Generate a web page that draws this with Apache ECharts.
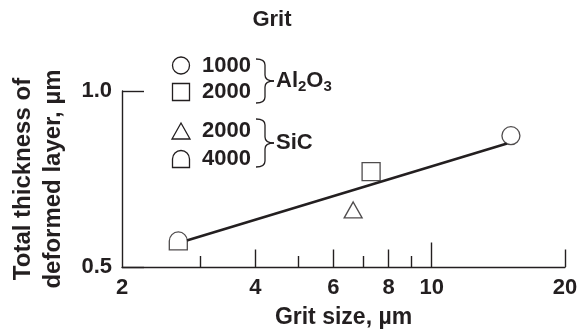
<!DOCTYPE html>
<html>
<head>
<meta charset="utf-8">
<script src="https://cdn.jsdelivr.net/npm/echarts@6/dist/echarts.min.js"></script>
<style>
  html, body { margin: 0; padding: 0; background: #ffffff; }
  #chart { width: 581px; height: 332px; }
</style>
</head>
<body>
<div id="chart"></div>
<script>
// Total thickness of the deformed layer (µm) against abrasive grit size (µm)
const al2o3Grit1000 = [[15.1, 0.873]];
const al2o3Grit2000 = [[7.3, 0.771]];
const sicGrit2000 = [[6.65, 0.662]];
const sicGrit4000 = [[2.68, 0.574]];
const fitLine = [[2.8, 0.575], [14.8, 0.851]];

const xLabelValues = [2, 4, 6, 8, 10, 20];
const xMidTicks = [4, 6, 8, 20];
const xShortTicks = [3, 5, 7, 9];
const xDecadeTicks = [10];

const INK = '#231f20';
const FONT = 'Liberation Sans, Arial, Helvetica, sans-serif';
const FS = 22;
const FW = 'bold';
const DOME = 'path://M0,18 L0,9 A9,9 0 0 1 18,9 L18,18 Z';

function xAxisLayer(tickValues, tickLen, withLine, withLabels) {
  return {
    type: 'log', logBase: 10, min: 2, max: 20, position: 'bottom', gridIndex: 0,
    axisLine: { show: withLine, lineStyle: { color: INK, width: 1.4 } },
    axisTick: { show: true, inside: true, length: tickLen, customValues: tickValues,
                lineStyle: { color: INK, width: 1.4 } },
    axisLabel: withLabels ? { show: true, customValues: xLabelValues, margin: 10,
                color: INK, fontSize: FS, fontWeight: FW, fontFamily: FONT } : { show: false },
    splitLine: { show: false },
    minorTick: { show: false },
    name: withLabels ? 'Grit size, \u00b5m' : '',
    nameLocation: 'middle', nameGap: 39,
    nameTextStyle: { color: INK, fontSize: 23, fontWeight: FW, fontFamily: FONT }
  };
}

function brace(x0, yTop, yBot) {
  const xm = x0 + 9, xt = x0 + 18, r = 6, yMid = (yTop + yBot) / 2;
  const s = { stroke: INK, lineWidth: 1.3, fill: null };
  return [
    { type: 'bezierCurve', shape: { x1: x0, y1: yTop, cpx1: xm, cpy1: yTop, x2: xm, y2: yTop + r }, style: s },
    { type: 'line', shape: { x1: xm, y1: yTop + r, x2: xm, y2: yMid - r }, style: s },
    { type: 'bezierCurve', shape: { x1: xm, y1: yMid - r, cpx1: xm, cpy1: yMid, x2: xt, y2: yMid }, style: s },
    { type: 'bezierCurve', shape: { x1: xt, y1: yMid, cpx1: xm, cpy1: yMid, x2: xm, y2: yMid + r }, style: s },
    { type: 'line', shape: { x1: xm, y1: yMid + r, x2: xm, y2: yBot - r }, style: s },
    { type: 'bezierCurve', shape: { x1: xm, y1: yBot - r, cpx1: xm, cpy1: yBot, x2: x0, y2: yBot }, style: s }
  ];
}

function label(text, x, y) {
  return { type: 'text', x: x, y: y,
           style: { text: text, fill: INK, font: FW + ' ' + FS + 'px ' + FONT,
                    textAlign: 'left', textVerticalAlign: 'middle' } };
}

const markStroke = { stroke: INK, lineWidth: 1.3, fill: '#ffffff' };

const chart = echarts.init(document.getElementById('chart'), null, { renderer: 'canvas' });
chart.setOption({
  animation: false,
  backgroundColor: '#ffffff',
  grid: { left: 122, right: 16, top: 91, bottom: 65, containLabel: false, outerBoundsMode: 'none' },
  xAxis: [
    xAxisLayer(xMidTicks, 17.5, true, true),
    xAxisLayer(xShortTicks, 11, false, false),
    xAxisLayer(xDecadeTicks, 24.5, false, false)
  ],
  yAxis: {
    type: 'value', min: 0.5, max: 1.0, interval: 0.5,
    axisLine: { show: true, lineStyle: { color: INK, width: 1.4 } },
    axisTick: { show: true, inside: true, length: 22, lineStyle: { color: INK, width: 1.4 } },
    axisLabel: { margin: 10, color: INK, fontSize: FS, fontWeight: FW, fontFamily: FONT,
                 formatter: v => v.toFixed(1) },
    splitLine: { show: false },
    name: 'Total thickness of\ndeformed layer, \u00b5m',
    nameLocation: 'middle', nameRotate: 90, nameGap: 54,
    nameTextStyle: { color: INK, fontSize: 24, fontWeight: FW, fontFamily: FONT, lineHeight: 30 }
  },
  series: [
    { type: 'line', data: fitLine, symbol: 'none', silent: true,
      lineStyle: { color: INK, width: 2.6 }, z: 2 },
    { type: 'scatter', name: 'Al2O3 1000', data: al2o3Grit1000, symbol: 'circle', symbolSize: 18,
      itemStyle: { color: '#ffffff', borderColor: INK, borderWidth: 1.3 }, z: 3 },
    { type: 'scatter', name: 'Al2O3 2000', data: al2o3Grit2000, symbol: 'rect', symbolSize: 18,
      itemStyle: { color: '#ffffff', borderColor: INK, borderWidth: 1.3 }, z: 3 },
    { type: 'scatter', name: 'SiC 2000', data: sicGrit2000, symbol: 'triangle', symbolSize: [18, 16],
      itemStyle: { color: '#ffffff', borderColor: INK, borderWidth: 1.3 }, z: 3 },
    { type: 'scatter', name: 'SiC 4000', data: sicGrit4000, symbol: DOME, symbolSize: 18,
      itemStyle: { color: '#ffffff', borderColor: INK, borderWidth: 1.3 }, z: 3 }
  ],
  graphic: [
    { type: 'text', x: 272, y: 20,
      style: { text: 'Grit', fill: INK, font: FW + ' ' + FS + 'px ' + FONT,
               textAlign: 'center', textVerticalAlign: 'middle' } },
    // legend markers
    { type: 'circle', shape: { cx: 181, cy: 65.5, r: 8.5 }, style: markStroke },
    { type: 'rect', shape: { x: 172.5, y: 83.5, width: 17, height: 17 }, style: markStroke },
    { type: 'polygon', shape: { points: [[181, 123], [172, 139], [190, 139]] }, style: markStroke },
    { type: 'arc', shape: { cx: 181, cy: 159, r: 8.5, startAngle: Math.PI, endAngle: 2 * Math.PI, clockwise: true },
      style: { stroke: INK, lineWidth: 1.3, fill: null } },
    { type: 'polyline', shape: { points: [[172.5, 159], [172.5, 167.5], [189.5, 167.5], [189.5, 159]] },
      style: { stroke: INK, lineWidth: 1.3, fill: null } },
    label('1000', 202, 66),
    label('2000', 202, 92),
    label('2000', 202, 131),
    label('4000', 202, 159),
    ...brace(256, 59, 103),
    ...brace(256, 119, 167),
    { type: 'text', x: 276, y: 82,
      style: { text: '{a|Al}{s|2}{a|O}{s|3}', fill: INK, textAlign: 'left', textVerticalAlign: 'middle',
               rich: { a: { fontSize: FS, fontWeight: FW, fontFamily: FONT, color: INK, verticalAlign: 'top', lineHeight: 24 },
                       s: { fontSize: 15, fontWeight: FW, fontFamily: FONT, color: INK, verticalAlign: 'bottom', lineHeight: 24,
                            padding: [10, 0, 0, 0] } } } },
    label('SiC', 276, 143)
  ]
});
</script>
</body>
</html>
